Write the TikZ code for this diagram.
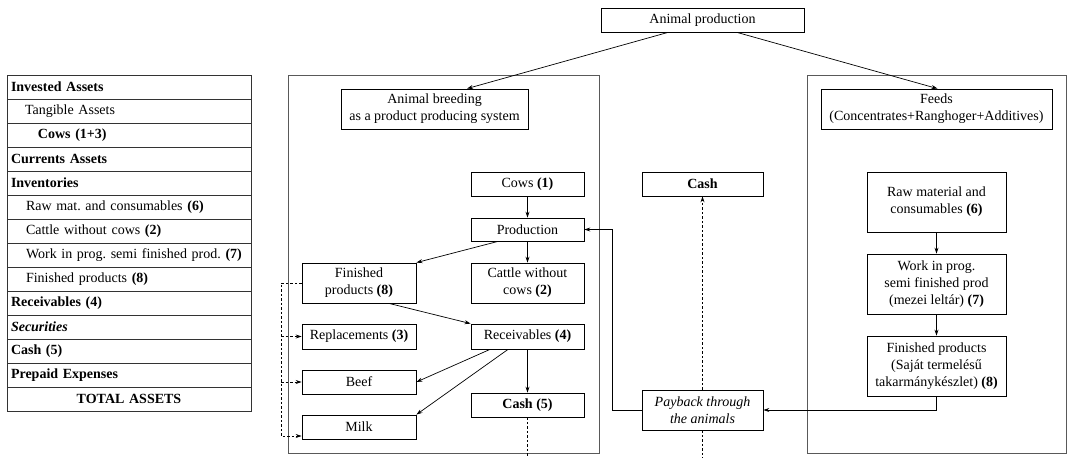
\documentclass[tikz,border=0pt]{standalone}
\usepackage{fontspec}
\setmainfont{Liberation Serif}
\usetikzlibrary{arrows.meta}
\frenchspacing
\begin{document}
\begin{tikzpicture}[x=1pt,y=-1pt,
  every node/.style={font=\fontsize{14}{17}\selectfont},
  box/.style={draw=black, line width=0.8pt, inner sep=0pt, align=center, rectangle},
  cont/.style={draw=black!65, line width=1pt, inner sep=0pt, rectangle},
  trow/.style={draw=black!80, line width=0.9pt, rectangle, minimum width=244pt, minimum height=24pt, text width=236pt, inner xsep=4pt, inner ysep=0pt, align=left},
  arr/.style={line width=0.7pt, -{Stealth[length=6pt,width=4pt]}},
  dasharr/.style={line width=0.7pt, dash pattern=on 2.5pt off 2pt, -{Stealth[length=6pt,width=4pt]}},
  dashln/.style={line width=0.7pt, dash pattern=on 2.5pt off 2pt}
]
\useasboundingbox (0,0) rectangle (1069,458);

% ---- left table ----
\node[trow] (t1)  at (129,87)  {\textbf{Invested Assets}};
\node[trow] (t2)  at (129,111) {\hspace*{14pt}Tangible Assets};
\node[trow] (t3)  at (129,135) {\hspace*{27pt}\textbf{Cows (1+3)}};
\node[trow] (t4)  at (129,159) {\textbf{Currents Assets}};
\node[trow] (t5)  at (129,183) {\textbf{Inventories}};
\node[trow] (t6)  at (129,207) {\hspace*{15pt}Raw mat. and consumables \textbf{(6)}};
\node[trow] (t7)  at (129,231) {\hspace*{15pt}Cattle without cows \textbf{(2)}};
\node[trow] (t8)  at (129,255) {\hspace*{15pt}Work in prog. semi finished prod. \textbf{(7)}};
\node[trow] (t9)  at (129,279) {\hspace*{15pt}Finished products \textbf{(8)}};
\node[trow] (t10) at (129,303) {\textbf{Receivables (4)}};
\node[trow] (t11) at (129,327) {\textit{\textbf{Securities}}};
\node[trow] (t12) at (129,351) {\textbf{Cash (5)}};
\node[trow] (t13) at (129,375) {\textbf{Prepaid Expenses}};
\node[trow, align=center] (t14) at (129,399) {\textbf{TOTAL ASSETS}};

% ---- containers ----
\node[cont, minimum width=311pt, minimum height=378pt] (lc) at (443.5,264) {};
\node[cont, minimum width=259pt, minimum height=378pt] (rc) at (936.5,264) {};

% ---- boxes ----
\node[box, minimum width=203pt, minimum height=24pt] (ap) at (702.5,20) {Animal production};
\node[box, minimum width=187pt, minimum height=40pt] (breed) at (434.5,109) {Animal breeding\\as a product producing system};
\node[box, minimum width=231pt, minimum height=40pt] (feeds) at (936.5,109) {Feeds\\(Concentrates+Ranghoger+Additives)};

\node[box, minimum width=113pt, minimum height=24pt] (cows1) at (527.5,184) {Cows \textbf{(1)}};
\node[box, minimum width=113pt, minimum height=23pt] (prod) at (527.5,229.5) {Production};
\node[box, minimum width=114pt, minimum height=40pt] (fin8) at (359,283) {Finished\\products \textbf{(8)}};
\node[box, minimum width=113pt, minimum height=40pt] (cattle) at (527.5,283) {Cattle without\\cows \textbf{(2)}};
\node[box, minimum width=114pt, minimum height=25pt] (repl) at (359,336.5) {Replacements \textbf{(3)}};
\node[box, minimum width=113pt, minimum height=25pt] (recv) at (527.5,336.5) {Receivables \textbf{(4)}};
\node[box, minimum width=114pt, minimum height=24pt] (beef) at (359,382) {Beef};
\node[box, minimum width=113pt, minimum height=24pt] (cash5) at (527.5,405) {\textbf{Cash (5)}};
\node[box, minimum width=114pt, minimum height=24pt] (milk) at (359,427) {Milk};

\node[box, minimum width=121pt, minimum height=24pt] (cash) at (702.5,184) {\textbf{Cash}};
\node[box, minimum width=121pt, minimum height=40pt] (pay) at (702.5,410) {\textit{Payback through}\\\textit{the animals}};

\node[box, minimum width=139pt, minimum height=60pt] (raw) at (936.5,202) {Raw material and\\consumables \textbf{(6)}};
\node[box, minimum width=139pt, minimum height=60pt] (wip) at (936.5,284) {Work in prog.\\semi finished prod\\(mezei leltár) \textbf{(7)}};
\node[box, minimum width=139pt, minimum height=60pt] (finp) at (936.5,366) {Finished products\\(Saját termelésű\\takarmánykészlet) \textbf{(8)}};

% ---- coordinates ----
\coordinate (c5end) at (527.5,458);
\coordinate (payend) at (702.5,458);
\coordinate (bx) at (281,0);
\coordinate (milkin) at ([yshift=-9pt]milk.west);

% ---- connectors ----
\draw[arr] ([xshift=-34.5pt]ap.south) -- ([xshift=32.5pt]breed.north);
\draw[arr] ([xshift=34.5pt]ap.south) -- ([xshift=1pt]feeds.north);

\draw[arr] (cows1) -- (prod);
\draw[arr] ([xshift=-29.5pt]prod.south) -- (fin8.north east);
\draw[arr] (prod) -- (cattle);
\draw[arr] ([xshift=30pt]fin8.south) -- (recv.north west);
\draw[arr] ([xshift=-37.5pt]recv.south) -- (beef.east);
\draw[arr] ([xshift=-19.5pt]recv.south) -- (milk.north east);
\draw[arr] (recv) -- (cash5);
\draw[dashln] (cash5.south) -- (c5end);

\draw[dasharr] (fin8.west) -| (bx |- milkin) -- (milkin);
\draw[dasharr] (bx |- repl.west) -- (repl.west);
\draw[dasharr] (bx |- beef.west) -- (beef.west);

\draw[dasharr] (pay.north) -- (cash.south);
\draw[dashln] (pay.south) -- (payend);
\draw[arr] (pay.west) -- ++(-29pt,0) |- (prod.east);

\draw[arr] (raw) -- (wip);
\draw[arr] (wip) -- (finp);
\draw[arr] (finp.south) |- (pay.east);
\end{tikzpicture}
\end{document}
